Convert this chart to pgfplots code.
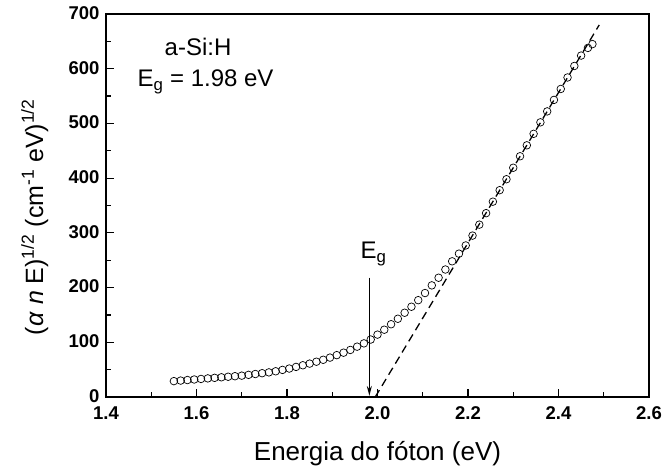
\documentclass[border=0pt]{standalone}
\usepackage{pgfplots}
\pgfplotsset{compat=1.18}
\usetikzlibrary{arrows.meta}
\usepackage{fontspec}
\setmainfont{Liberation Sans}
\begin{document}
\begin{tikzpicture}
\begin{axis}[
  scale only axis, width=543pt, height=383pt,
  xmin=1.4, xmax=2.6, ymin=0, ymax=700,
  xtick={1.4,1.6,1.8,2.0,2.2,2.4,2.6},
  ytick={0,100,200,300,400,500,600,700},
  minor x tick num=1, minor y tick num=1,
  tick align=inside, tick pos=left,
  major tick length=8pt, minor tick length=5pt,
  axis line style={line width=1.6pt},
  every tick/.style={line width=1.2pt, black},
  /pgf/number format/assume math mode=true,
  x tick label style={/pgf/number format/.cd, fixed, fixed zerofill, precision=1, /tikz/.cd, yshift=-6pt},
  y tick label style={xshift=-3pt, yshift=1pt},
  tick label style={font=\fontsize{18.5}{18.5}\selectfont\bfseries},
  label style={font=\fontsize{26}{26}\selectfont},
  xlabel={Energia do fóton (eV)},
  ylabel={(\textit{α} \textit{n} E)\textsuperscript{1/2} (cm\textsuperscript{-1} eV)\textsuperscript{1/2}},
  xlabel style={at={(axis description cs:0.5,0)}, anchor=base, yshift=-64pt},
  ylabel style={at={(axis description cs:-0.116,0.47)}, anchor=base, rotate=0, font=\fontsize{25}{25}\selectfont},
]
\addplot[only marks, mark=o, mark size=3.8pt, mark options={line width=0.7pt, black}] coordinates {
(1.550,29) (1.565,30) (1.580,31) (1.595,32) (1.610,33) (1.625,34) (1.640,35) (1.655,36)
(1.670,37) (1.685,38) (1.700,39) (1.715,40.5) (1.730,42) (1.745,43.5) (1.760,45) (1.775,47)
(1.790,49.5) (1.805,52) (1.820,55) (1.835,58) (1.850,61) (1.865,64.5) (1.880,68) (1.895,72)
(1.910,76.5) (1.925,81) (1.940,86) (1.955,92) (1.970,98) (1.985,105) (2.000,114) (2.015,123)
(2.030,133) (2.045,143) (2.060,154) (2.075,165) (2.090,177) (2.105,190) (2.120,204) (2.135,218)
(2.150,233) (2.165,248) (2.180,262) (2.195,277) (2.210,295) (2.225,315) (2.240,336) (2.255,357)
(2.270,378) (2.285,398) (2.300,419) (2.315,440) (2.330,460) (2.345,481) (2.360,502) (2.375,522)
(2.390,543) (2.405,563) (2.420,584) (2.435,605) (2.450,624) (2.465,638) (2.475,645)
};
\addplot[black, line width=1.3pt, dash pattern=on 8pt off 5pt] coordinates {(1.995,0) (2.49,680)};
\draw[line width=1.2pt, -{Stealth[length=10pt,width=5pt]}] (axis cs:1.982,218) -- (axis cs:1.982,2);
\node[anchor=west, font=\fontsize{24}{24}\selectfont] at (axis cs:1.955,262) {E\textsubscript{g}};
\node[anchor=west, font=\fontsize{24}{24}\selectfont] at (axis cs:1.522,640) {a-Si:H};
\node[anchor=west, font=\fontsize{24}{24}\selectfont] at (axis cs:1.462,576) {E\textsubscript{g} = 1.98 eV};
\end{axis}
\pgfresetboundingbox
\path ([shift={(-106pt,-73pt)}]current axis.south west) rectangle ([shift={(15pt,14pt)}]current axis.north east);
\end{tikzpicture}
\end{document}
